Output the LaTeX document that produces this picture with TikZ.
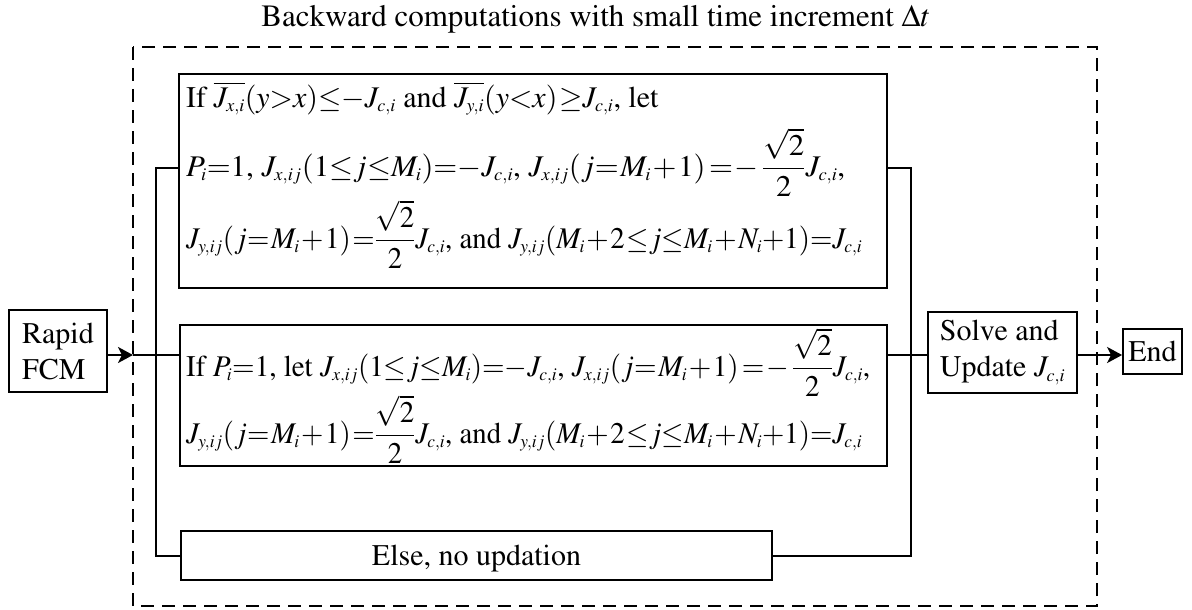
\documentclass[tikz,border=0pt]{standalone}
\usepackage[T1]{fontenc}
\usepackage{amsmath}
\usepackage{mathptmx}
\usepackage{graphicx}
\usetikzlibrary{arrows.meta,calc}
\DeclareMathSizes{30}{30}{18}{14}
\DeclareMathSizes{31}{31}{19}{14}
\tikzset{
  box/.style={draw, line width=1.8pt, inner sep=0pt},
  conn/.style={line width=1.8pt},
  arr/.style={line width=2.6pt, -{Stealth[length=15pt,width=16pt,inset=4pt]}},
  frame/.style={draw, line width=1.8pt, dash pattern=on 13pt off 8pt},
  txt/.style={anchor=base west, inner sep=0pt},
}
\newcommand{\tight}{\thickmuskip=1mu\medmuskip=1mu\thinmuskip=2mu}
\newcommand{\fitw}[2]{\resizebox{#1}{\height}{#2}}
\begin{document}
\begin{tikzpicture}[x=1pt,y=-1pt,font=\fontsize{30}{36}\selectfont\tight]
\useasboundingbox (0,0) rectangle (1192,610);
% title
\node[anchor=base, inner sep=0pt, font=\fontsize{31}{36}\selectfont] (title) at (596,27) {Backward computations with small time increment $\Delta t$};
% dashed frame
\draw[frame] (133,47) rectangle (1097,606);
\coordinate (dl) at (133,355);
% boxes
\node[box, minimum width=708pt, minimum height=214pt] (b1) at (533,181) {};
\node[box, minimum width=707pt, minimum height=141pt] (b2) at (533.5,395.5) {};
\node[box, minimum width=591pt, minimum height=49pt] (b3) at (476.5,555.5) {};
\node[box, minimum width=98pt, minimum height=82pt, align=left] (fcm) at (58,351) {Rapid\\FCM};
\node[box, minimum width=149pt, minimum height=81pt, align=left] (solve) at (1002.5,352.5) {Solve and\\Update $J_{c,i}$};
\node[box, minimum width=59pt, minimum height=45pt] (end) at (1152.5,351.5) {End};
\coordinate (ay) at (0,355);
% texts
\node[txt] (t11) at (186,107) {If $\overline{J_{x,i}}(y{>}x){\le}{-}J_{c,i}$ and $\overline{J_{y,i}}(y{<}x)\;{\ge}J_{c,i}$, let};
\node[txt] (t12) at (186,176) {\fitw{659pt}{$P_i{=}1$, $J_{x,ij}(1{\le}j{\le}M_i){=}{-}J_{c,i}$, $J_{x,ij}(j{=}\;M_i+1)\;={-}\,\dfrac{\sqrt2}{2}J_{c,i}$,}};
\node[txt] (t13) at (186,248) {\fitw{676pt}{$J_{y,ij}(j{=}\;M_i+1)\;{=}\dfrac{\sqrt2}{2}J_{c,i}$, and $J_{y,ij}(M_i+2\;{\le}j{\le}M_i+N_i{+}1){=}J_{c,i}$}};
\node[txt] (t21) at (186,376) {\fitw{684pt}{If $P_i{=}1$, let $J_{x,ij}(1{\le}j{\le}M_i){=}{-}J_{c,i}$, $J_{x,ij}(j{=}\;M_i+1)\;={-}\,\dfrac{\sqrt2}{2}J_{c,i}$,}};
\node[txt] (t22) at (186,443) {\fitw{676pt}{$J_{y,ij}(j{=}\;M_i+1)\;{=}\dfrac{\sqrt2}{2}J_{c,i}$, and $J_{y,ij}(M_i+2\;{\le}j{\le}M_i+N_i{+}1){=}J_{c,i}$}};
\node[anchor=base, inner sep=0pt] (t3) at (b3.center |- 0,565) {Else, no updation};
% buses
\coordinate (lt) at (156,168);
\coordinate (lb) at (156,556);
\coordinate (rt) at (911,168);
\coordinate (rb) at (911,556);
\draw[conn] (b1.west |- lt) -- (lt) -- (lb) -- (b3.west |- lb);
\draw[conn] (b1.east |- rt) -- (rt) -- (rb) -- (b3.east |- rb);
\draw[arr] (fcm.east |- ay) -- (dl);
\draw[conn] (dl) -- (b2.west |- dl);
\draw[conn] (b2.east |- ay) -- (solve.west |- ay);
\draw[arr] (solve.east |- ay) -- (end.west |- ay);
\end{tikzpicture}
\end{document}
